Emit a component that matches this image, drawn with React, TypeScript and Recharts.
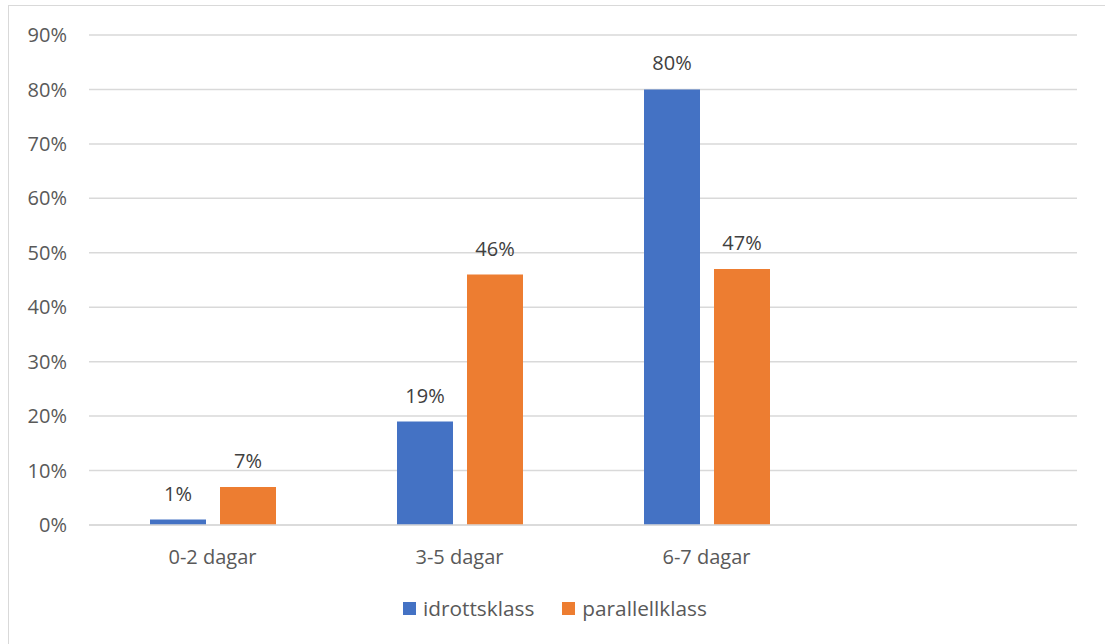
import React from 'react';
import {
    BarChart, Bar, XAxis, YAxis, CartesianGrid, Legend, LabelList,
} from 'recharts';

// days per week, share of students in each class type
const categories = ['0-2 dagar', '3-5 dagar', '6-7 dagar', ''];
const idrottsklass = [1, 19, 80, null];
const parallellklass = [7, 46, 47, null];
const yTicks = [0, 10, 20, 30, 40, 50, 60, 70, 80, 90];

const seriesNames = ['idrottsklass', 'parallellklass'];
const seriesColors = ['#4472C4', '#ED7D31'];

const FONT = '"Open Sans", "Noto Sans", sans-serif';
const FONT_SIZE = 20;

const chartData = categories.map((name, i) => ({
    name,
    idrottsklass: idrottsklass[i],
    parallellklass: parallellklass[i],
}));

const percent = (v: any) => (v === null || v === undefined ? '' : `${v}%`);

const LegendContent = () => (
    <div
        style={{
            display: 'flex',
            justifyContent: 'center',
            alignItems: 'center',
            paddingTop: 13,
            paddingLeft: 24,
            fontFamily: FONT,
            fontSize: 20.8,
            color: '#595959',
            lineHeight: '20px',
        }}
    >
        {seriesNames.map((n, i) => (
            <div key={n} style={{ display: 'flex', alignItems: 'center', marginRight: i === 0 ? 28 : 0 }}>
                <span style={{ width: 13, height: 13, background: seriesColors[i], marginRight: 7, display: 'inline-block' }} />
                <span>{n}</span>
            </div>
        ))}
    </div>
);

const App = () => {
    return (
        <div
            style={{
                position: 'fixed',
                left: 8,
                top: 5,
                width: 1096,
                height: 638,
                borderLeft: '1px solid #d9d9d9',
                borderTop: '1px solid #d9d9d9',
                background: '#fff',
            }}
        >
            <BarChart
                width={1096}
                height={638}
                data={chartData}
                margin={{ top: 29, right: 28, bottom: 0, left: 0 }}
                barSize={56}
                barGap={14}
            >
                <CartesianGrid vertical={false} stroke="#d9d9d9" strokeWidth={1.5} />
                <XAxis
                    dataKey="name"
                    height={60}
                    tickLine={false}
                    axisLine={{ stroke: '#d9d9d9', strokeWidth: 1.5 }}
                    tickMargin={19}
                    tick={{ fill: '#595959', fontSize: FONT_SIZE, fontFamily: FONT }}
                />
                <YAxis
                    width={80}
                    domain={[0, 90]}
                    ticks={yTicks}
                    interval={0}
                    tickFormatter={percent}
                    tickLine={false}
                    axisLine={false}
                    tickMargin={16}
                    tick={{ fill: '#595959', fontSize: FONT_SIZE, fontFamily: FONT }}
                />
                <Legend verticalAlign="bottom" wrapperStyle={{ height: 59 }} content={<LegendContent />} />
                <Bar dataKey="idrottsklass" fill={seriesColors[0]} isAnimationActive={false}>
                    <LabelList
                        dataKey="idrottsklass"
                        position="top"
                        offset={19}
                        formatter={percent}
                        style={{ fill: '#404040', fontSize: FONT_SIZE, fontFamily: FONT }}
                    />
                </Bar>
                <Bar dataKey="parallellklass" fill={seriesColors[1]} isAnimationActive={false}>
                    <LabelList
                        dataKey="parallellklass"
                        position="top"
                        offset={19}
                        formatter={percent}
                        style={{ fill: '#404040', fontSize: FONT_SIZE, fontFamily: FONT }}
                    />
                </Bar>
            </BarChart>
        </div>
    );
};

export default App;
